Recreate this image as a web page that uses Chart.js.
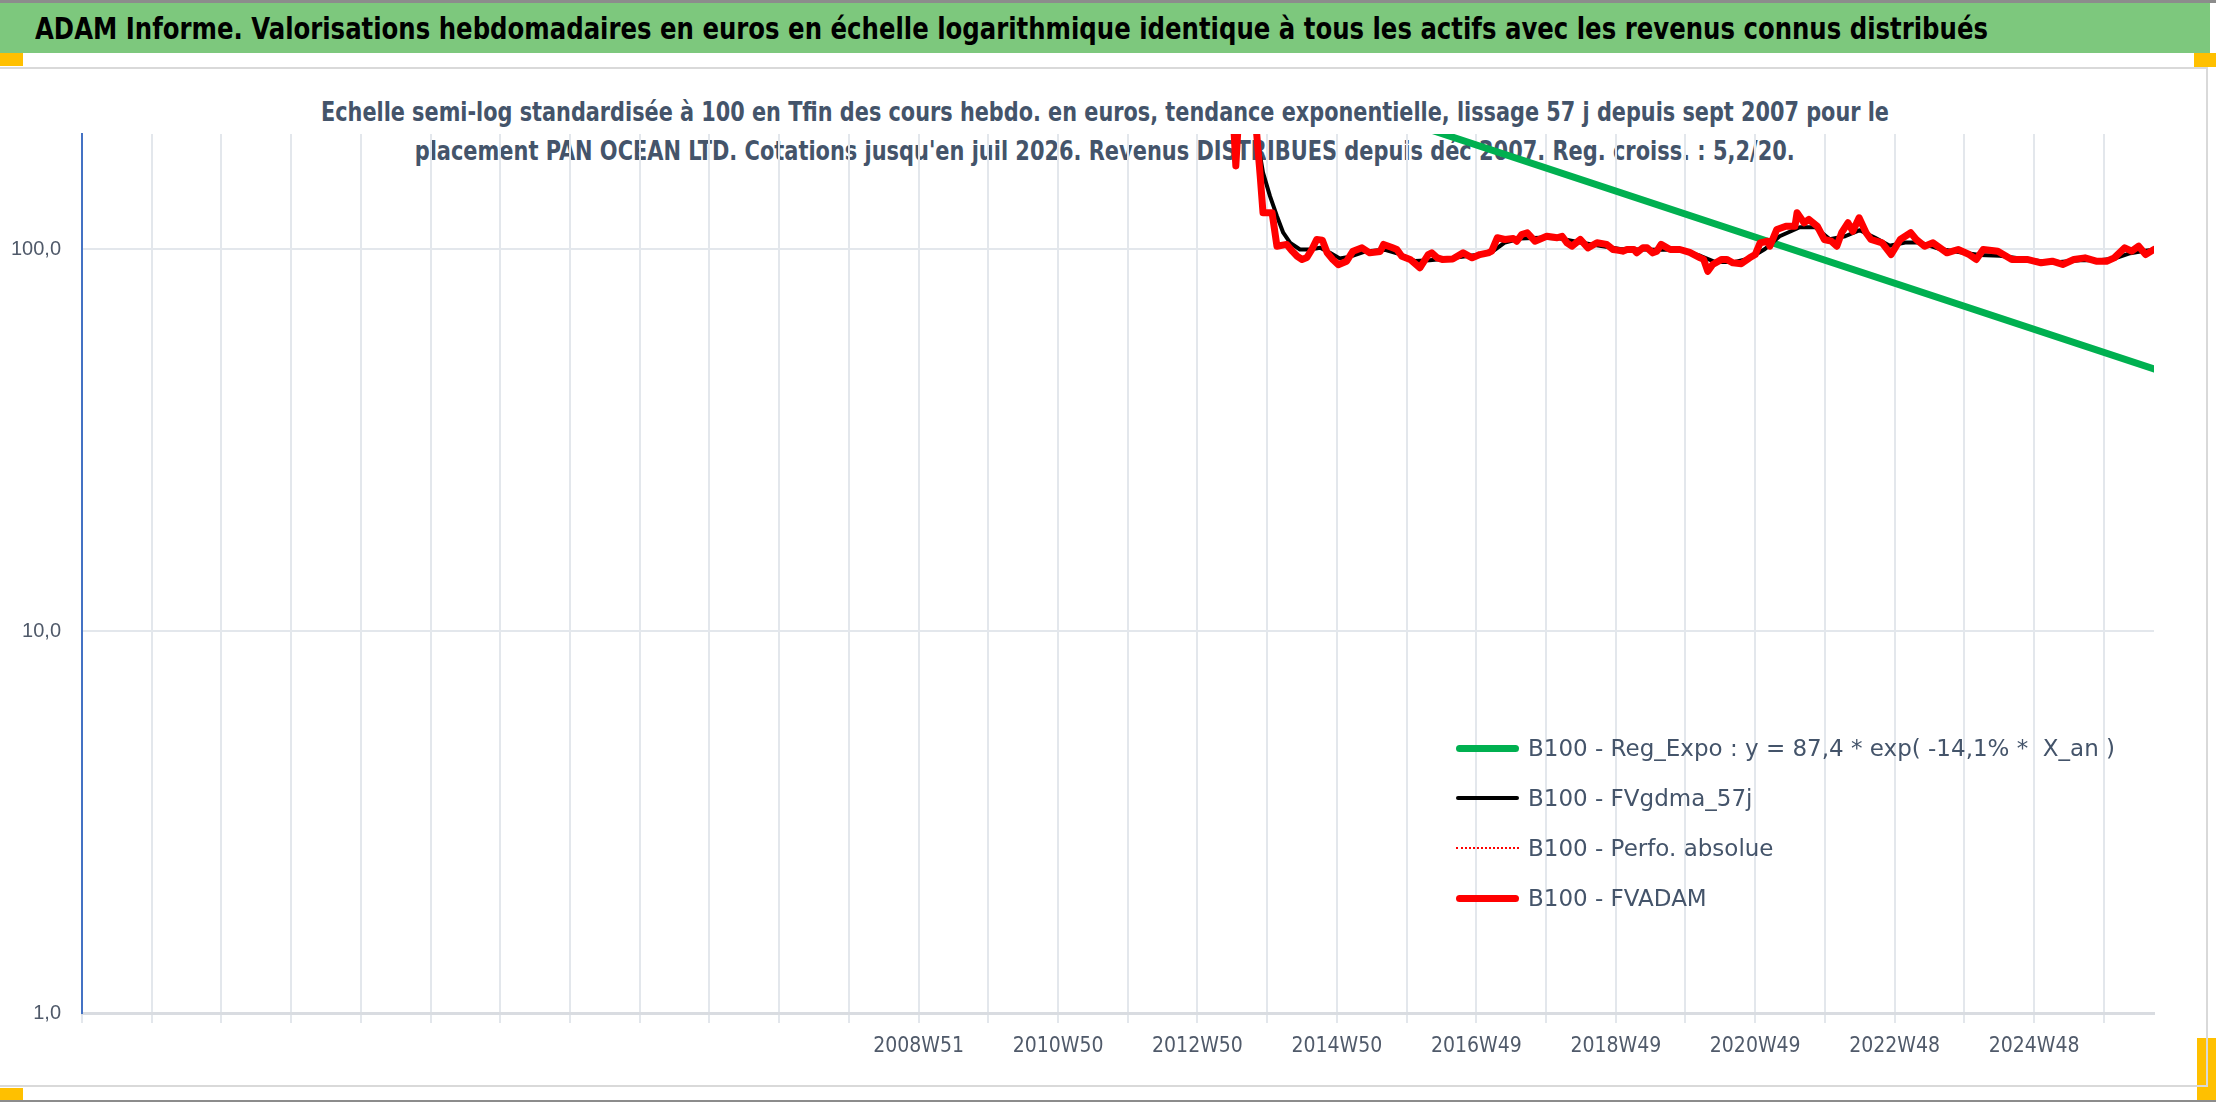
<!DOCTYPE html>
<html lang="fr">
<head>
<meta charset="utf-8">
<title>ADAM Informe - PAN OCEAN LTD</title>
<script src="https://cdn.jsdelivr.net/npm/chart.js@4.4.1/dist/chart.umd.min.js"></script>
<style>
  html, body { margin: 0; padding: 0; background: #fff; }
  body { width: 2216px; height: 1102px; position: relative; overflow: hidden; }
  #topline { position: absolute; left: 0; top: 0; width: 2216px; height: 3px; background: #8c8c8c; }
  #botline { position: absolute; left: 0; top: 1100px; width: 2216px; height: 2px; background: #8c8c8c; }
  #header { position: absolute; left: 0; top: 3px; width: 2210px; height: 50px; background: #7DC87D; overflow: hidden; }
  #header span {
    position: absolute; left: 35px; top: 0; line-height: 51px; transform-origin: 0 50%;
    font-family: 'DejaVu Sans Condensed', 'DejaVu Sans', sans-serif;
    font-weight: bold; font-size: 31px; color: #000; white-space: nowrap;
  }
  .mark { position: absolute; background: #FFC000; }
  .subtitle {
    position: absolute; left: -3px; width: 2216px; height: 39px; line-height: 39px; text-align: center;
    font-family: 'DejaVu Sans Condensed', 'DejaVu Sans', sans-serif;
    font-weight: bold; font-size: 26px; color: #44546A; white-space: nowrap;
  }
  .subtitle span { display: inline-block; transform-origin: 50% 50%; }
  #box {
    position: absolute; left: 0; top: 67px; width: 2208px; height: 1020px; box-sizing: border-box;
    border-top: 2px solid #D9D9D9; border-right: 2px solid #D9D9D9; border-bottom: 2px solid #D9D9D9;
  }
  #wrap { position: absolute; left: 0; top: 0; width: 2206px; height: 1016px; }
  #legend { position: absolute; left: 1456px; top: 723px; }
  #legend .row { height: 50px; display: flex; align-items: center; }
  #legend .sample { width: 63px; margin-right: 9px; }
  #legend .txt {
    font-family: 'DejaVu Sans', sans-serif;
    font-size: 23px; color: #44546A; white-space: pre;
  }
</style>
</head>
<body>
<div id="topline"></div>
<div id="header"><span id="headerText">ADAM Informe. Valorisations hebdomadaires en euros en échelle logarithmique identique à tous les actifs avec les revenus connus distribués</span></div>
<div class="mark" style="left:0;top:53px;width:23px;height:13px;"></div>
<div class="mark" style="left:2194px;top:53px;width:22px;height:14px;"></div>
<div class="mark" style="left:2197px;top:1038px;width:19px;height:62px;"></div>
<div class="mark" style="left:0;top:1088px;width:23px;height:12px;"></div>
<div class="subtitle" style="top:93px;"><span id="sub1"></span></div>
<div class="subtitle" style="top:132px;"><span id="sub2"></span></div>
<div id="box"><div id="wrap"><canvas id="chart"></canvas></div></div>
<div id="legend"></div>
<div id="botline"></div>
<script>
// subtitle (drawn under the plot lines, as in the source sheet)
var subtitleLines = [
  "Echelle semi-log standardisée à 100 en Tfin des cours hebdo. en euros, tendance exponentielle, lissage 57 j depuis sept 2007 pour le",
  "placement PAN OCEAN LTD. Cotations jusqu'en juil 2026. Revenus DISTRIBUES depuis déc 2007. Reg. croiss. : 5,2/20."
];

// x axis: one gridline per 52 weeks, label every 104 weeks
var xGridStart = 1996.96;
var xEnd = 2026.68;
var xTickLabels = ['', '', '', '', '', '', '', '', '', '', '', '',
  '2008W51', '', '2010W50', '', '2012W50', '', '2014W50', '', '2016W49', '',
  '2018W49', '', '2020W49', '', '2022W48', '', '2024W48', ''];

// y axis (log)
var yMin = 1, yMax = 200;
var yTickValues = [1, 10, 100];

// B100 - FVADAM (and Perfo. absolue, same curve)
var fvadamYears = [2013.47, 2013.51, 2013.56, 2013.71, 2013.80, 2013.86, 2013.90, 2014.03, 2014.10, 2014.24,
  2014.32, 2014.39, 2014.46, 2014.53, 2014.60, 2014.67, 2014.75, 2014.82, 2014.90, 2014.98,
  2015.10, 2015.19, 2015.32, 2015.43, 2015.58, 2015.63, 2015.76, 2015.82, 2015.89, 2016.01,
  2016.15, 2016.27, 2016.32, 2016.40, 2016.47, 2016.62, 2016.77, 2016.90, 2017.01, 2017.13,
  2017.18, 2017.26, 2017.37, 2017.49, 2017.54, 2017.61, 2017.69, 2017.80, 2017.97, 2018.12,
  2018.19, 2018.26, 2018.33, 2018.45, 2018.56, 2018.69, 2018.83, 2018.92, 2018.98, 2019.06,
  2019.12, 2019.22, 2019.26, 2019.35, 2019.41, 2019.49, 2019.55, 2019.61, 2019.74, 2019.88,
  2020.02, 2020.17, 2020.22, 2020.28, 2020.35, 2020.48, 2020.55, 2020.64, 2020.76, 2020.88,
  2020.96, 2021.03, 2021.14, 2021.17, 2021.27, 2021.40, 2021.53, 2021.56, 2021.66, 2021.73,
  2021.85, 2021.95, 2022.05, 2022.13, 2022.20, 2022.29, 2022.36, 2022.45, 2022.55, 2022.62,
  2022.78, 2022.91, 2023.04, 2023.19, 2023.27, 2023.39, 2023.51, 2023.71, 2023.87, 2024.03,
  2024.13, 2024.23, 2024.44, 2024.64, 2024.86, 2025.06, 2025.22, 2025.37, 2025.53, 2025.69,
  2025.85, 2026.00, 2026.11, 2026.26, 2026.36, 2026.46, 2026.56, 2026.68];
var fvadamValues = [230, 165, 240, 260, 210, 155, 124.4, 124.4, 101.7, 102.8,
  98.7, 95.7, 93.9, 95.0, 99.7, 105.9, 105.5, 97.7, 93.9, 91.0,
  92.9, 98.7, 100.7, 97.7, 98.5, 102.8, 100.7, 99.7, 95.7, 93.9,
  89.3, 96.7, 97.7, 94.8, 93.9, 94.2, 97.7, 94.8, 96.7, 97.7,
  98.7, 107.0, 105.9, 106.5, 104.8, 109.1, 110.3, 104.8, 108.0, 107.0,
  108.0, 103.8, 101.7, 105.9, 100.7, 103.8, 102.8, 99.7, 99.3, 98.7,
  99.7, 99.7, 97.7, 100.7, 100.7, 97.7, 98.7, 102.8, 99.7, 99.7,
  98.0, 94.8, 93.9, 87.4, 91.1, 93.9, 93.9, 92.0, 91.5, 94.8,
  96.7, 103.8, 104.8, 101.7, 112.5, 114.7, 114.7, 124.4, 117.1, 119.5,
  114.7, 105.9, 104.8, 101.7, 110.3, 117.1, 111.3, 120.7, 110.3, 105.9,
  103.8, 96.7, 105.9, 110.3, 105.9, 101.7, 103.8, 97.7, 99.7, 96.7,
  93.9, 99.7, 98.7, 93.9, 93.9, 92.0, 92.9, 91.1, 93.9, 94.8,
  92.9, 92.9, 94.8, 100.7, 98.7, 101.7, 96.7, 99.7];

// B100 - FVgdma_57j
var gdmaYears = [2013.71, 2013.81, 2013.90, 2014.00, 2014.10, 2014.19, 2014.29, 2014.43, 2014.57, 2014.72,
  2014.86, 2015.00, 2015.15, 2015.36, 2015.65, 2015.86, 2016.08, 2016.29, 2016.58, 2016.87,
  2017.16, 2017.37, 2017.59, 2017.87, 2018.16, 2018.45, 2018.73, 2019.02, 2019.31, 2019.59,
  2019.88, 2020.17, 2020.38, 2020.67, 2020.88, 2021.10, 2021.31, 2021.60, 2021.82, 2022.03,
  2022.25, 2022.46, 2022.68, 2022.89, 2023.11, 2023.32, 2023.61, 2023.90, 2024.18, 2024.47,
  2024.76, 2025.04, 2025.33, 2025.62, 2025.90, 2026.12, 2026.34, 2026.55, 2026.68];
var gdmaValues = [240, 197.6, 158.5, 137.5, 121.9, 110.3, 103.8, 99.7, 99.7, 100.7,
  97.7, 94.5, 95.5, 98.5, 99.5, 97.0, 93.0, 93.5, 94.5, 96.0,
  97.5, 104.0, 106.5, 107.0, 106.5, 104.0, 102.0, 100.0, 99.7, 99.5,
  99.5, 96.0, 92.5, 92.5, 94.5, 100.0, 108.0, 114.0, 114.0, 106.0,
  108.0, 112.0, 107.0, 102.0, 104.0, 104.0, 100.0, 98.0, 96.5, 96.0,
  94.5, 93.0, 92.5, 93.5, 93.5, 94.5, 97.5, 99.0, 99.5];

// B100 - Reg_Expo (straight line on the log scale)
var regYears = [2013.47, 2026.68];
var regValues = [304, 48.5];

function toPoints(xs, ys) {
  return xs.map(function (x, i) { return { x: x, y: ys[i] }; });
}

// text blocks squeezed to the narrow widths of the original
function fitWidth(el, target) {
  var w = el.getBoundingClientRect().width;
  el.style.transform = 'scaleX(' + (target / w) + ')';
}
document.getElementById('sub1').textContent = subtitleLines[0];
document.getElementById('sub2').textContent = subtitleLines[1];
fitWidth(document.getElementById('headerText'), 1953);
fitWidth(document.getElementById('sub1'), 1568);
fitWidth(document.getElementById('sub2'), 1380);

var datasets = [
  { label: 'B100 - Reg_Expo : y = 87,4 * exp( -14,1% *  X_an )', data: toPoints(regYears, regValues),
    borderColor: '#00B050', borderWidth: 7, order: 3 },
  { label: 'B100 - FVgdma_57j', data: toPoints(gdmaYears, gdmaValues),
    borderColor: '#000000', borderWidth: 4, order: 2 },
  { label: 'B100 - Perfo. absolue', data: toPoints(fvadamYears, fvadamValues),
    borderColor: '#FF0000', borderWidth: 2, borderDash: [2, 2], order: 1 },
  { label: 'B100 - FVADAM', data: toPoints(fvadamYears, fvadamValues),
    borderColor: '#FF0000', borderWidth: 7, order: 0 }
];

var gridColor = '#E3E7EC';
var tickColor = '#505A6A';

var ctx = document.getElementById('chart');
var chart = new Chart(ctx, {
  type: 'line',
  data: { datasets: datasets },
  options: {
    responsive: true,
    maintainAspectRatio: false,
    animation: false,
    events: [],
    elements: { point: { radius: 0 }, line: { tension: 0, borderJoinStyle: 'round', borderCapStyle: 'round' } },
    layout: { padding: { left: 0, right: 52, top: 65, bottom: 0 } },
    plugins: {
      legend: { display: false },
      tooltip: { enabled: false },
      title: { display: false }
    },
    scales: {
      x: {
        type: 'linear',
        min: xGridStart,
        max: xEnd,
        afterBuildTicks: function (scale) {
          scale.ticks = xTickLabels.map(function (l, i) { return { value: xGridStart + i }; });
        },
        afterFit: function (scale) { scale.height = 72; },
        grid: { color: gridColor, lineWidth: 2, drawTicks: true, tickLength: 10, tickColor: gridColor },
        border: { color: '#D9DCE1', width: 3 },
        ticks: {
          autoSkip: false, maxRotation: 0, padding: 11, color: tickColor,
          font: { family: "'DejaVu Sans Condensed', 'DejaVu Sans', sans-serif", size: 21 },
          callback: function (value, index) { return xTickLabels[index]; }
        }
      },
      y: {
        type: 'logarithmic',
        min: yMin,
        max: yMax,
        afterBuildTicks: function (scale) {
          scale.ticks = yTickValues.map(function (v) { return { value: v }; });
        },
        afterFit: function (scale) { scale.width = 82; },
        grid: { color: gridColor, lineWidth: 2, drawTicks: false },
        border: { color: '#4472C4', width: 2 },
        ticks: {
          padding: 21, color: tickColor,
          font: { family: "'Liberation Sans', 'Open Sans', sans-serif", size: 20 },
          callback: function (value) { return value.toFixed(1).replace('.', ','); }
        }
      }
    }
  }
});

// legend drawn in html, inside the plot area on the right
var legendEl = document.getElementById('legend');
chart.data.datasets.forEach(function (ds) {
  var row = document.createElement('div');
  row.className = 'row';
  var sample = document.createElement('div');
  sample.className = 'sample';
  var style = ds.borderDash ? 'dotted' : 'solid';
  sample.style.borderTop = ds.borderWidth + 'px ' + style + ' ' + ds.borderColor;
  sample.style.borderRadius = ds.borderDash ? '0' : '4px';
  var txt = document.createElement('span');
  txt.className = 'txt';
  txt.textContent = ds.label;
  row.appendChild(sample);
  row.appendChild(txt);
  legendEl.appendChild(row);
});
</script>
</body>
</html>
